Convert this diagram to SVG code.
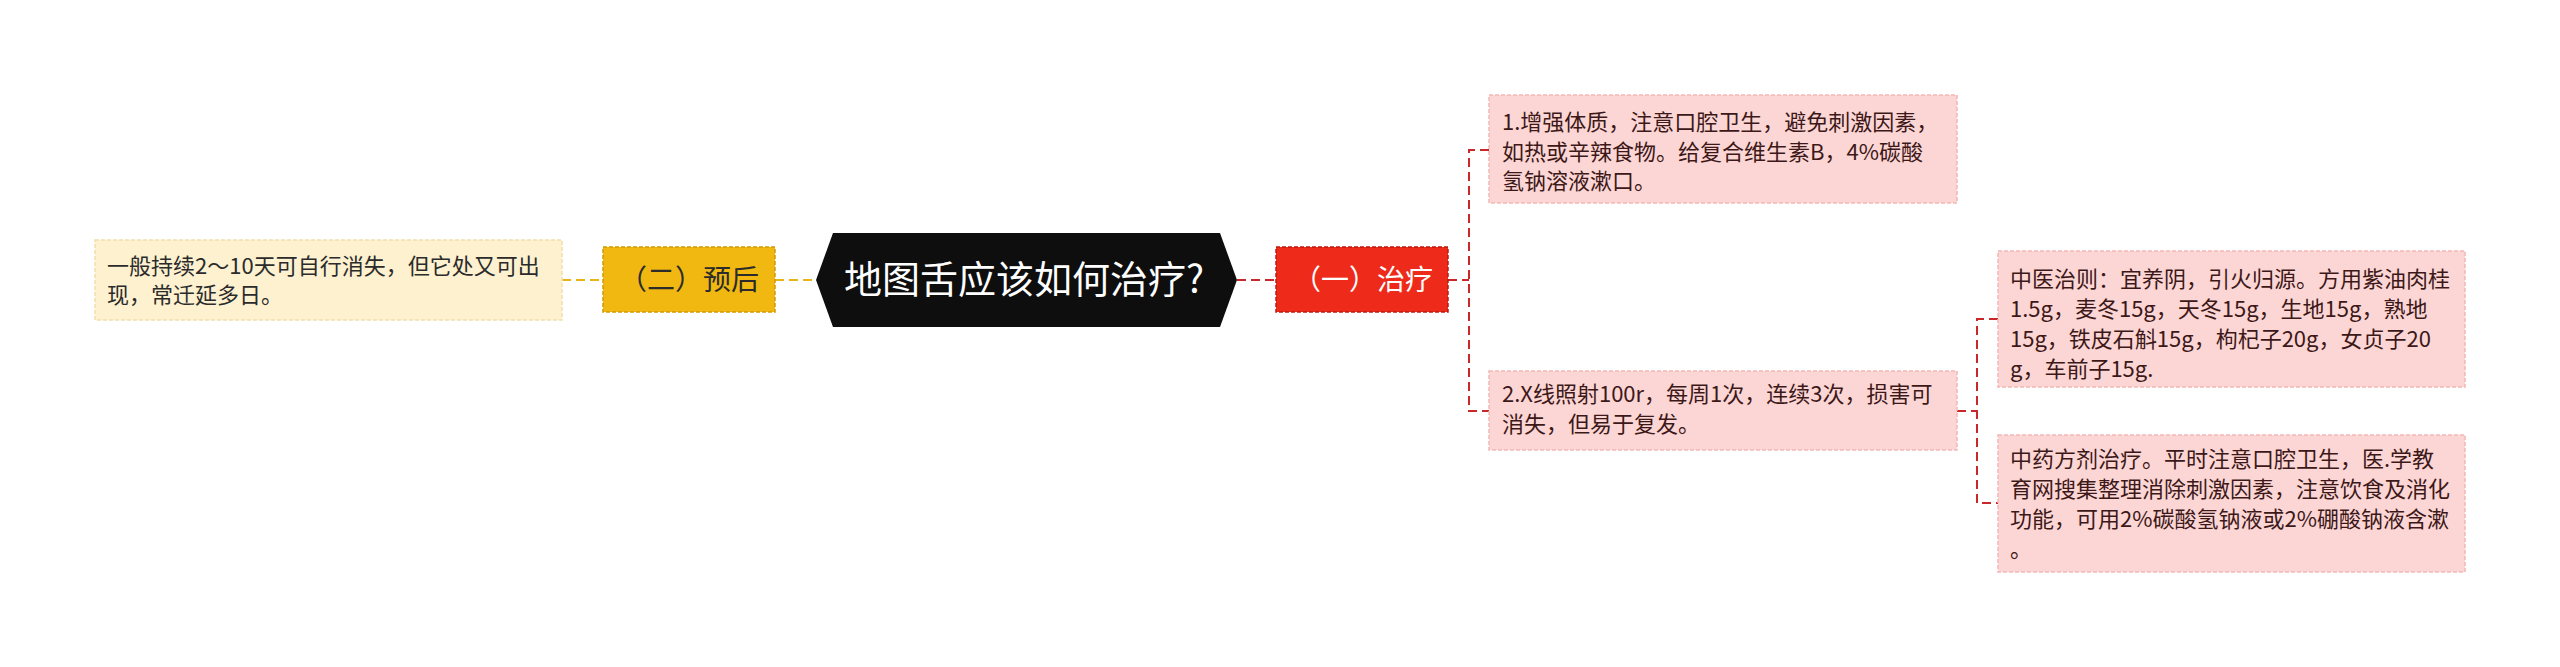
<svg xmlns="http://www.w3.org/2000/svg" width="2560" height="667" viewBox="0 0 2560 667">
<style>
text{font-family:"Microsoft YaHei","Noto Sans CJK SC","Noto Sans",sans-serif;}
.leaf{fill:#FCD6D4;stroke:#F1B8B5;stroke-width:1.5;stroke-dasharray:4 2;}
.leaft{font-size:22px;fill:#3d1818;}
.cream{fill:#FDF1D0;stroke:#F2DFA8;stroke-width:1.5;stroke-dasharray:4 2;}
.creamt{font-size:22px;fill:#2b2b2b;}
.gold{fill:#F0B810;stroke:#D29A00;stroke-width:1.5;stroke-dasharray:4 2;}
.red{fill:#EE2A1B;stroke:#BE1A10;stroke-width:1.5;stroke-dasharray:4 2;}
.lr{fill:none;stroke:#C8282A;stroke-width:2;stroke-dasharray:9 5;}
.ly{fill:none;stroke:#E8B518;stroke-width:2;stroke-dasharray:9 5;}
</style>
<rect width="2560" height="667" fill="#ffffff"/>
<g id="connectors">
<path class="ly" d="M562 280 H603"/>
<path class="ly" d="M775 280 H816"/>
<path class="lr" d="M1237 280 H1276"/>
<path class="lr" d="M1448 280 H1469"/>
<path class="lr" d="M1489 150 H1469 V411 H1489"/>
<path class="lr" d="M1957 411 H1977"/>
<path class="lr" d="M1998 319 H1977 V503 H1998"/>
</g>
<g id="root">
<polygon points="816,280 833,233 1220,233 1237,280 1220,327 833,327" fill="#0E0E0E"/>
<text x="1024" y="293" font-size="38" fill="#ffffff" text-anchor="middle">地图舌应该如何治疗?</text>
</g>
<g id="n-yuhou">
<rect class="gold" x="603" y="247" width="172" height="65"/>
<text x="689" y="290" font-size="28" fill="#2b2b2b" text-anchor="middle">（二）预后</text>
</g>
<g id="n-yuhou-leaf">
<rect class="cream" x="95" y="240" width="467" height="80"/>
<text class="creamt"><tspan x="107" y="274">一般持续2～10天可自行消失，但它处又可出</tspan><tspan x="107" y="303">现，常迁延多日。</tspan></text>
</g>
<g id="n-zhiliao">
<rect class="red" x="1276" y="247" width="172" height="65"/>
<text x="1363" y="290" font-size="28" fill="#ffffff" text-anchor="middle">（一）治疗</text>
</g>
<g id="n-1">
<rect class="leaf" x="1489" y="95" width="468" height="108"/>
<text class="leaft"><tspan x="1502" y="130">1.增强体质，注意口腔卫生，避免刺激因素，</tspan><tspan x="1502" y="159.5">如热或辛辣食物。给复合维生素B，4%碳酸</tspan><tspan x="1502" y="189">氢钠溶液漱口。</tspan></text>
</g>
<g id="n-2">
<rect class="leaf" x="1489" y="371" width="468" height="79"/>
<text class="leaft"><tspan x="1502" y="402">2.X线照射100r，每周1次，连续3次，损害可</tspan><tspan x="1502" y="431.5">消失，但易于复发。</tspan></text>
</g>
<g id="n-3">
<rect class="leaf" x="1998" y="251" width="467" height="136"/>
<text class="leaft"><tspan x="2010" y="287">中医治则：宜养阴，引火归源。方用紫油肉桂</tspan><tspan x="2010" y="317">1.5g，麦冬15g，天冬15g，生地15g，熟地</tspan><tspan x="2010" y="347">15g，铁皮石斛15g，枸杞子20g，女贞子20</tspan><tspan x="2010" y="377">g，车前子15g.</tspan></text>
</g>
<g id="n-4">
<rect class="leaf" x="1998" y="435" width="467" height="137"/>
<text class="leaft"><tspan x="2010" y="467">中药方剂治疗。平时注意口腔卫生，医.学教</tspan><tspan x="2010" y="497">育网搜集整理消除刺激因素，注意饮食及消化</tspan><tspan x="2010" y="527">功能，可用2%碳酸氢钠液或2%硼酸钠液含漱</tspan><tspan x="2010" y="557">。</tspan></text>
</g>
</svg>
